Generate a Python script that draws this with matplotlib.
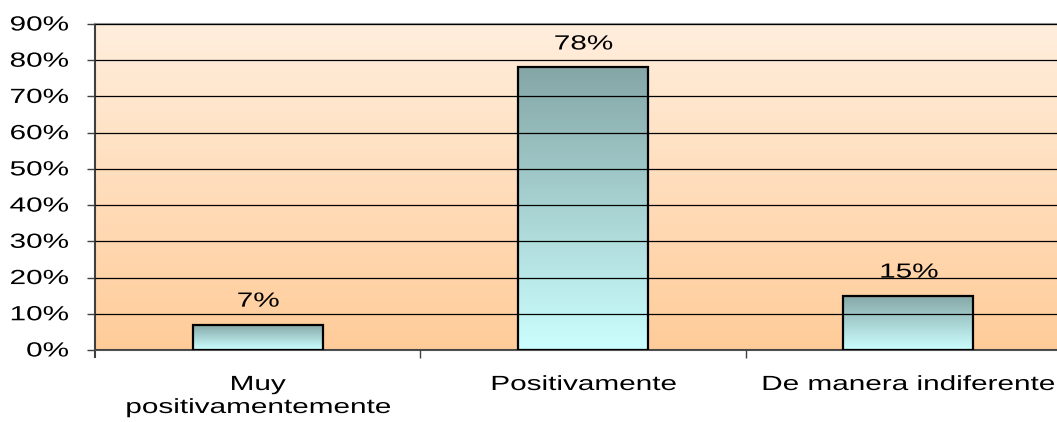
import numpy as np
import matplotlib.pyplot as plt
from matplotlib.colors import LinearSegmentedColormap
from matplotlib.ticker import FixedLocator, NullFormatter
from matplotlib.textpath import TextPath
from matplotlib.patches import PathPatch
from matplotlib.font_manager import FontProperties
from matplotlib.transforms import Affine2D

categories = [["Muy", "positivamentemente"], ["Positivamente"], ["De manera indiferente"]]
values = [0.07, 0.78, 0.15]
labels = ["7%", "78%", "15%"]
yticks = [0.0, 0.1, 0.2, 0.3, 0.4, 0.5, 0.6, 0.7, 0.8, 0.9]

W, H = 1057, 422
FONT = FontProperties(family="Liberation Sans")
SIZE_PX = 20.5   # em size in pixels
STRETCH = 1.45   # the reference text is drawn wider than normal


def stretched_text(fig, x, y, s, ha="center"):
    """Draw text in pixel coords (baseline at y), stretched horizontally."""
    tp = TextPath((0, 0), s, size=SIZE_PX, prop=FONT)
    ext = tp.get_extents()
    w = ext.x1 * STRETCH
    if ha == "center":
        x0 = min(x - w / 2, W - 3 - w)
    elif ha == "right":
        x0 = x - w
    else:
        x0 = x
    tr = Affine2D().scale(STRETCH, 1).translate(x0, y)
    fig.patches.append(PathPatch(tp, transform=tr, facecolor="black",
                                 edgecolor="none", figure=fig, zorder=10))


fig = plt.figure(figsize=(W / 100, H / 100), dpi=100)
# the plot area runs past the right edge of the picture
ax = fig.add_axes([95 / W, 72 / H, 976 / W, 326 / H])

ymax = 0.9
x = np.arange(len(categories))
ax.set_xlim(-0.5, len(categories) - 0.5)
ax.set_ylim(0, ymax)

# background gradient
bg_cmap = LinearSegmentedColormap.from_list("bg", ["#FFCC99", "#FFEEDD"])
grad = np.linspace(0, 1, 256).reshape(-1, 1)
ax.imshow(grad, cmap=bg_cmap, origin="lower", aspect="auto",
          extent=(-0.5, len(categories) - 0.5, 0, ymax), zorder=0)

ax.yaxis.set_major_locator(FixedLocator(yticks))
ax.yaxis.set_major_formatter(NullFormatter())
ax.grid(axis="y", color="black", linewidth=0.9, zorder=1)
ax.set_axisbelow(False)

bar_cmap = LinearSegmentedColormap.from_list("bar", ["#CCFFFF", "#85A6A6"])
bars = ax.bar(x, values, width=0.40, facecolor="none", edgecolor="black",
              linewidth=1.6, zorder=3)
for rect in bars:
    x0, w, h = rect.get_x(), rect.get_width(), rect.get_height()
    ax.imshow(grad, cmap=bar_cmap, origin="lower", aspect="auto",
              extent=(x0, x0 + w, 0, h), zorder=2)

ax.set_xlim(-0.5, len(categories) - 0.5)
ax.set_ylim(0, ymax)

ax.set_xticks(x)
ax.xaxis.set_major_formatter(NullFormatter())
ax.set_xticks([0.5, 1.5], minor=True)
ax.tick_params(axis="x", which="major", length=0)
ax.tick_params(axis="x", which="minor", length=6, color="#404040", width=1)
ax.tick_params(axis="y", length=6, color="#404040", width=1)

ax.spines["right"].set_visible(False)
ax.spines["top"].set_color("#909090")
ax.spines["top"].set_linewidth(1.5)
ax.spines["left"].set_color("#404040")
ax.spines["left"].set_linewidth(1.5)
ax.spines["left"].set_bounds(-0.02, ymax)
ax.spines["bottom"].set_color("#505050")
ax.spines["bottom"].set_linewidth(1.5)

# text, placed in pixel coordinates from the data transform
to_px = ax.transData.transform
for t in yticks:
    _, py = to_px((0, t))
    stretched_text(fig, 68, py - 6.5, f"{t * 100:.0f}%", ha="right")

for rect, lab in zip(bars, labels):
    px, py = to_px((rect.get_x() + rect.get_width() / 2, rect.get_height()))
    stretched_text(fig, px, py + 18, lab)

base = H - 390
for xi, lines in zip(x, categories):
    px, _ = to_px((xi, 0))
    for k, line in enumerate(lines):
        stretched_text(fig, px, base - 23 * k, line)

fig.savefig("out.png", dpi=100)
